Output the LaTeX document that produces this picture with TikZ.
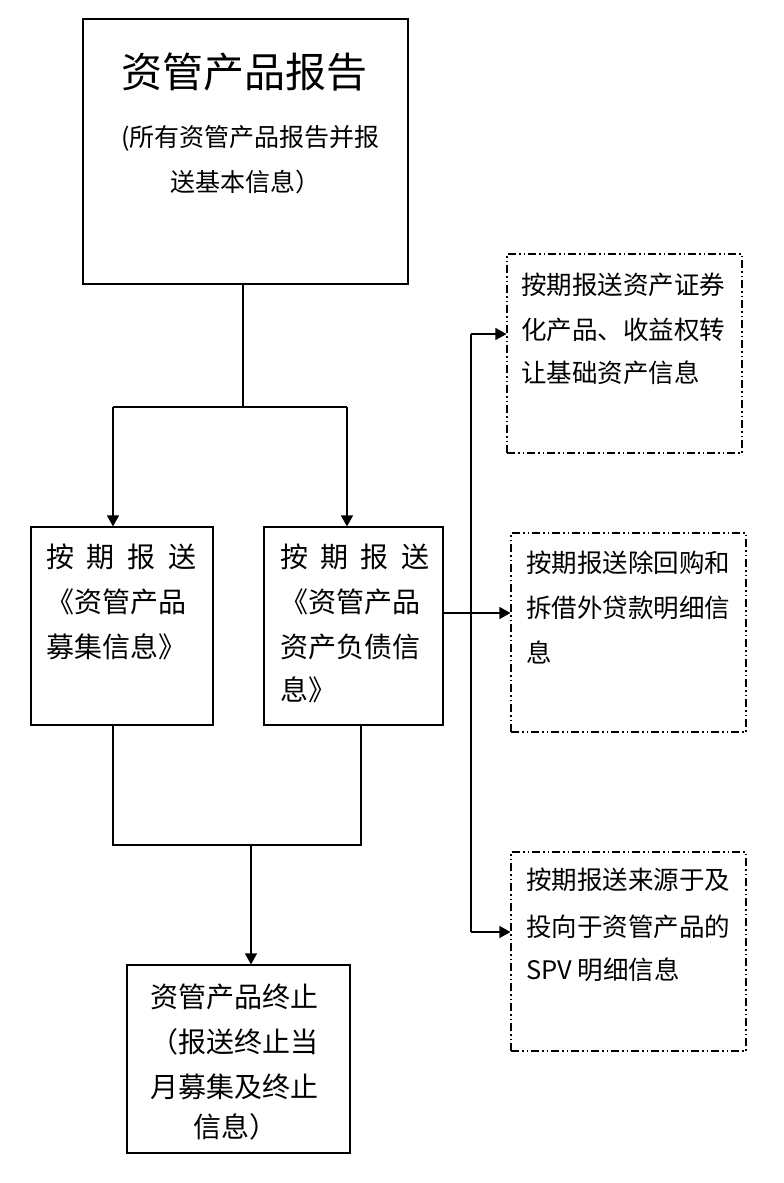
\documentclass[tikz,border=0pt]{standalone}
\usepackage{fontspec}
\setmainfont{Noto Sans CJK SC}
\usetikzlibrary{arrows.meta}
\begin{document}
\begin{tikzpicture}[x=1pt,y=-1pt,
  solidbox/.style={draw,line width=1.2pt,inner sep=0pt,rectangle},
  dbox/.style={draw,line width=1.1pt,inner sep=0pt,rectangle,
     dash pattern=on 8pt off 3pt on 1.5pt off 3pt on 1.5pt off 3pt},
  ln/.style={anchor=west,inner sep=0pt,font=\fontsize{28}{30}\selectfont},
  lnr/.style={anchor=west,inner sep=0pt,font=\fontsize{25.5}{28}\selectfont},
  lnsub/.style={anchor=west,inner sep=0pt,font=\fontsize{25}{27}\selectfont},
  lntitle/.style={anchor=west,inner sep=0pt,font=\fontsize{41}{44}\selectfont},
  conn/.style={line width=1.2pt},
  arr/.style={line width=1.2pt,-{Triangle[length=11pt,width=12pt]}}]
\useasboundingbox (0,0) rectangle (784,1183);
% boxes
\node[solidbox,minimum width=325pt,minimum height=265pt] (top) at (245.5,151.5) {};
\node[solidbox,minimum width=182pt,minimum height=198pt] (left) at (122,626) {};
\node[solidbox,minimum width=179pt,minimum height=198pt] (right) at (353.5,626) {};
\node[solidbox,minimum width=223pt,minimum height=188pt] (bottom) at (238.5,1059) {};
\node[dbox,minimum width=235pt,minimum height=199pt] (r1) at (624.5,353.5) {};
\node[dbox,minimum width=235pt,minimum height=199pt] (r2) at (628.5,632.5) {};
\node[dbox,minimum width=235pt,minimum height=199pt] (r3) at (628.5,951.5) {};
% texts
\node[lntitle] (tt) at (121,72) {资管产品报告};
\node[lnsub] (ts1) at (121,138) {(所有资管产品报告并报};
\node[lnsub] (ts2) at (170,182) {送基本信息）};
\node[ln] (tl1) at (46,557) {\makebox[150pt][s]{按\hfill 期\hfill 报\hfill 送}};
\node[ln] (tl2) at (46,602) {《资管产品};
\node[ln] (tl3) at (46,647) {募集信息》};
\node[ln] (tr1) at (280,557) {\makebox[149pt][s]{按\hfill 期\hfill 报\hfill 送}};
\node[ln] (tr2) at (280,602) {《资管产品};
\node[ln] (tr3) at (280,647) {资产负债信};
\node[ln] (tr4) at (280,690) {息》};
\node[ln] (tb1) at (150,997) {资管产品终止};
\node[ln] (tb2) at (150,1042) {（报送终止当};
\node[ln] (tb3) at (150,1087) {月募集及终止};
\node[ln] (tb4) at (193,1127) {信息）};
\node[lnr] (a1) at (521,285) {按期报送资产证券};
\node[lnr] (a2) at (521,330) {化产品、收益权转};
\node[lnr] (a3) at (521,373) {让基础资产信息};
\node[lnr] (b1) at (526,563) {按期报送除回购和};
\node[lnr] (b2) at (526,608) {拆借外贷款明细信};
\node[lnr] (b3) at (526,652) {息};
\node[lnr] (c1) at (526,880) {按期报送来源于及};
\node[lnr] (c2) at (526,927) {投向于资管产品的};
\node[lnr] (c3) at (526,970) {SPV 明细信息};
% junction coordinates
\coordinate (j0) at (243,407);
\coordinate (jl) at (113,407);
\coordinate (jr) at (347,407);
\coordinate (kl) at (113,845);
\coordinate (kr) at (361,845);
\coordinate (km) at (251,845);
\coordinate (v1) at (471,334);
\coordinate (v3) at (471,932);
% connectors
\draw[conn] (top.south -| j0) -- (j0);
\draw[conn] (jl) -- (jr);
\draw[arr] (jl) -- (jl |- left.north);
\draw[arr] (jr) -- (jr |- right.north);
\draw[conn] (left.south -| kl) -- (kl) -- (kr) -- (right.south -| kr);
\draw[arr] (km) -- (km |- bottom.north);
\draw[arr] (right.east |- 0,613) -- (r2.west |- 0,613);
\draw[conn] (v1) -- (v3);
\draw[arr] (v1) -- (r1.west |- v1);
\draw[arr] (v3) -- (r3.west |- v3);
\end{tikzpicture}
\end{document}
